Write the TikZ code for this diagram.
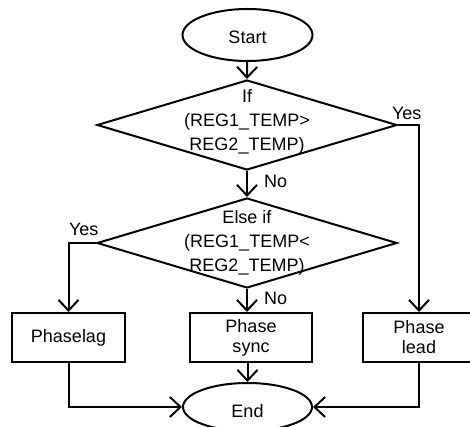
\documentclass[tikz,border=0pt]{standalone}
\usepackage{fontspec}
\setmainfont{Liberation Sans}
\usetikzlibrary{shapes.geometric,arrows.meta}
\begin{document}
\begin{tikzpicture}[x=0.75pt,y=-0.75pt,
  line width=1.5pt,
  every node/.style={font=\fontsize{13.5}{18}\selectfont, line width=1.5pt},
  arr/.style={-{Straight Barb[length=8pt,width=15pt]}},
  oval/.style={draw, ellipse, inner sep=0pt, text depth=0pt},
  dia/.style={draw, diamond, inner sep=0pt, minimum width=225pt, minimum height=67.5pt},
  dtext/.style={align=center, inner sep=0pt},
  box/.style={draw, rectangle, inner sep=0pt, align=center, minimum height=36.75pt,
              font=\fontsize{13.5}{15}\selectfont},
  lbl/.style={anchor=base west, inner sep=0pt}]
\useasboundingbox (0,0) rectangle (470,427);

\node[oval, minimum width=97.5pt, minimum height=39pt, text height=13.4pt] (start) at (247.5,35) {Start};
\node[dia] (d1) at (247,125) {};
\node[dtext] (d1t) at (247,121.4) {If\\(REG1\_TEMP>\\REG2\_TEMP)};
\node[dia] (d2) at (247,243) {};
\node[dtext] (d2t) at (247,242.4) {Else if\\(REG1\_TEMP<\\REG2\_TEMP)};

\node[box, minimum width=84.75pt] (lag) at (68.5,337.5) {Phaselag};
\node[box, minimum width=91.5pt] (sync) at (251,337.5) {Phase\\sync};
\node[box, minimum width=84pt] (lead) at (419,337.5) {Phase\\lead};

\node[oval, minimum width=96.75pt, minimum height=36pt, text height=15.4pt] (end) at (247.5,407) {End};

\draw[arr] (start) -- (d1.north);
\draw[arr] (d1.south) -- (d2.north);
\draw[arr] (d1.east) -| (lead.north);
\draw[arr] (d2.west) -| (lag.north);
\draw[arr] (d2.south) -- (d2.south |- sync.north);
\draw[arr] (end.north |- sync.south) -- (end.north);
\draw[arr] (lag.south) |- (end.west);
\draw[arr] (lead.south) |- (end.east);

\node[lbl] (y1) at (391,120) {Yes};
\node[lbl] (y2) at (68,235) {Yes};
\node[lbl] (n1) at (263,188) {No};
\node[lbl] (n2) at (263,304) {No};
\end{tikzpicture}
\end{document}
